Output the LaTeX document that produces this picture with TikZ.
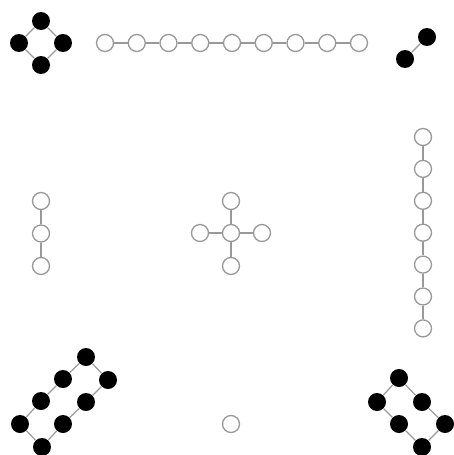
\documentclass[tikz,border=0pt]{standalone}
\usepackage{tikz}

\begin{document}
\begin{tikzpicture}[x=1pt, y=-1pt,
  wnode/.style={circle, draw=gray!80, line width=1.3pt, fill=white, minimum size=17pt, inner sep=0pt},
  bnode/.style={circle, fill=black, minimum size=18pt, inner sep=0pt},
  bond/.style={gray!80, line width=1.2pt}]
\useasboundingbox (0,0) rectangle (454,455);
% square of four
\node[bnode] (qt) at (41,21) {};
\node[bnode] (ql) at (19,43) {};
\node[bnode] (qr) at (63,43) {};
\node[bnode] (qb) at (41,65) {};
\draw[bond] (qt) -- (qr) -- (qb) -- (ql) -- (qt);
% top chain
\foreach \i in {0,...,8}{
    \node[wnode] (h\i) at (105+31.75*\i,43) {};
}
\foreach \i [evaluate=\i as \j using int(\i+1)] in {0,...,7}{
    \draw[bond] (h\i) -- (h\j);
}
% pair
\node[bnode] (pa) at (405,59) {};
\node[bnode] (pb) at (427,37) {};
\draw[bond] (pa) -- (pb);
% left chain
\foreach \i in {0,1,2}{
    \node[wnode] (l\i) at (41,201+32.5*\i) {};
}
\draw[bond] (l0) -- (l1) -- (l2);
% cross
\node[wnode] (cc) at (231,233) {};
\node[wnode] (cn) at (231,201) {};
\node[wnode] (cw) at (200,233) {};
\node[wnode] (ce) at (262,233) {};
\node[wnode] (cs) at (231,266) {};
\foreach \p in {cn,cw,ce,cs}{
    \draw[bond] (cc) -- (\p);
}
% right chain
\foreach \i in {0,...,6}{
    \node[wnode] (v\i) at (423,137+31.9*\i) {};
}
\foreach \i [evaluate=\i as \j using int(\i+1)] in {0,...,5}{
    \draw[bond] (v\i) -- (v\j);
}
% single
\node[wnode] (s) at (231,424) {};
% ring of eight
\node[bnode] (e1) at (20,424) {};
\node[bnode] (e2) at (41,401) {};
\node[bnode] (e3) at (63,379) {};
\node[bnode] (e4) at (86,357) {};
\node[bnode] (e5) at (108,380) {};
\node[bnode] (e6) at (86,402) {};
\node[bnode] (e7) at (63,424) {};
\node[bnode] (e8) at (42,447) {};
\draw[bond] (e1) -- (e2) -- (e3) -- (e4) -- (e5) -- (e6) -- (e7) -- (e8) -- (e1);
% ring of six
\node[bnode] (x1) at (399,378) {};
\node[bnode] (x2) at (377,402) {};
\node[bnode] (x3) at (399,424) {};
\node[bnode] (x4) at (422,447) {};
\node[bnode] (x5) at (445,424) {};
\node[bnode] (x6) at (422,402) {};
\draw[bond] (x1) -- (x2) -- (x3) -- (x4) -- (x5) -- (x6) -- (x1);
\end{tikzpicture}
\end{document}
